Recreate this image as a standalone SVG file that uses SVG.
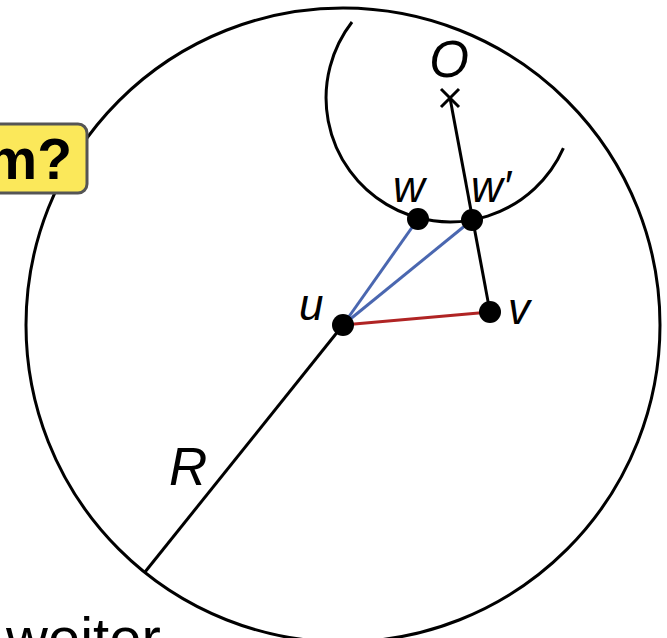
<svg xmlns="http://www.w3.org/2000/svg" width="667" height="638" viewBox="0 0 667 638">
<style>
.ln{fill:none;stroke:#000;stroke-width:3;stroke-linecap:butt}
.dot{fill:#000}
.lbl{font-family:"Liberation Sans",Arial,sans-serif;font-style:italic;fill:#000}
.blue{stroke:#4a67b0;stroke-width:3;fill:none}
.red{stroke:#b02424;stroke-width:3;fill:none}
</style>
<rect width="667" height="638" fill="#fff"/>
<g id="big-circle">
<circle cx="343" cy="325" r="317" class="ln"/>
</g>
<g id="small-arc">
<path d="M 352 22 A 124 124 0 1 0 563.4 148.2" class="ln"/>
</g>
<g id="connectors">
<line x1="343" y1="325" x2="145" y2="572" class="ln"/>
<line x1="450" y1="98" x2="490" y2="312" class="ln"/>
<line x1="343" y1="325" x2="418" y2="219" class="blue"/>
<line x1="343" y1="325" x2="472" y2="220" class="blue"/>
<line x1="343" y1="325" x2="490" y2="312" class="red"/>
</g>
<g id="O">
<path d="M 441 89 L 459 107 M 459 89 L 441 107" class="ln" stroke-width="3.5"/>
<text x="449" y="77" class="lbl" font-size="51" text-anchor="middle">O</text>
</g>
<g id="w">
<circle cx="418" cy="219" r="11" class="dot"/>
<text x="393" y="202" class="lbl" font-size="44">w</text>
</g>
<g id="w-prime">
<circle cx="472" cy="220" r="11" class="dot"/>
<text x="471" y="202" class="lbl" font-size="44">w′</text>
</g>
<g id="u">
<circle cx="343" cy="325" r="11" class="dot"/>
<text x="299" y="320" class="lbl" font-size="44">u</text>
</g>
<g id="v">
<circle cx="490" cy="312" r="11" class="dot"/>
<text x="508" y="324" class="lbl" font-size="44">v</text>
</g>
<g id="R">
<text x="169" y="485" class="lbl" font-size="53">R</text>
</g>
<g id="question-box">
<rect x="-20" y="124" width="107" height="69" rx="9" fill="#fbe85a" stroke="#555" stroke-width="3"/>
<text x="72" y="179" font-family="Liberation Sans,Arial,sans-serif" font-weight="bold" font-size="57" text-anchor="end" fill="#000">m?</text>
</g>
<g id="weiter">
<text x="6" y="658" font-family="Liberation Sans,Arial,sans-serif" font-size="58" fill="#000">weiter</text>
</g>
</svg>
